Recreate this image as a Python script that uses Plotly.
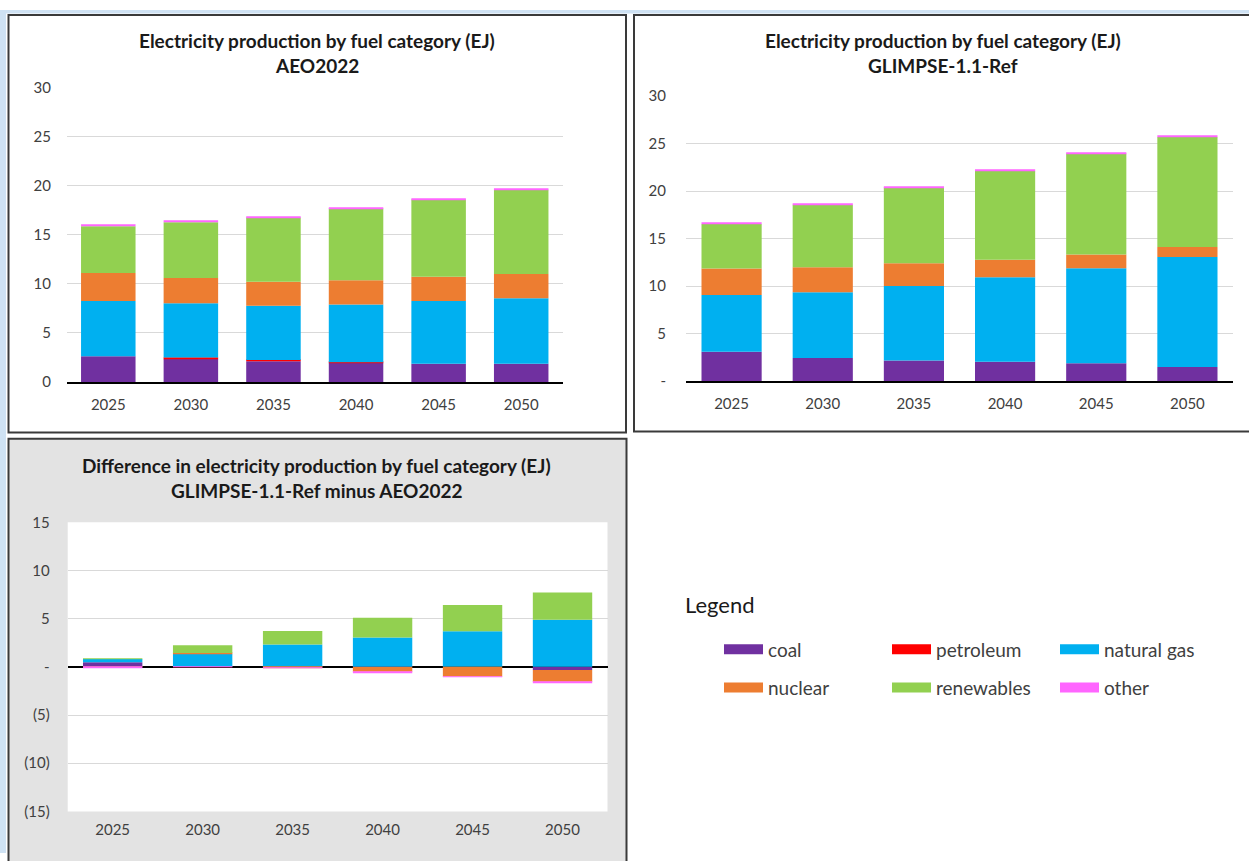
import plotly.graph_objects as go

W, H = 1249, 861

years = ['2025', '2030', '2035', '2040', '2045', '2050']
fuels = ['coal', 'petroleum', 'natural gas', 'nuclear', 'renewables', 'other']
colors = ['#7030A0', '#FF0000', '#00B0F0', '#ED7D31', '#92D050', '#FF66FF']

# AEO2022 (EJ)
aeo_coal = [2.62, 2.36, 2.12, 1.99, 1.86, 1.86]
aeo_petroleum = [0.00, 0.13, 0.13, 0.02, 0.00, 0.00]
aeo_gas = [5.64, 5.54, 5.51, 5.89, 6.40, 6.67]
aeo_nuclear = [2.83, 2.56, 2.45, 2.46, 2.46, 2.46]
aeo_renewables = [4.77, 5.67, 6.54, 7.30, 7.87, 8.59]
aeo_other = [0.11, 0.11, 0.11, 0.11, 0.11, 0.11]

# GLIMPSE-1.1-Ref (EJ)
gl_coal = [3.09, 2.44, 2.16, 2.03, 1.89, 1.48]
gl_petroleum = [0.00, 0.00, 0.00, 0.00, 0.00, 0.00]
gl_gas = [5.98, 6.91, 7.84, 8.90, 10.00, 11.58]
gl_nuclear = [2.79, 2.64, 2.41, 1.85, 1.44, 1.06]
gl_renewables = [4.67, 6.57, 7.97, 9.35, 10.62, 11.58]
gl_other = [0.13, 0.11, 0.13, 0.11, 0.11, 0.11]

# Difference GLIMPSE-1.1-Ref minus AEO2022 (EJ)
df_coal = [0.47, 0.00, 0.02, 0.00, 0.00, -0.32]
df_petroleum = [0.00, -0.01, -0.02, -0.01, 0.00, 0.00]
df_gas = [0.34, 1.35, 2.29, 3.05, 3.70, 4.89]
df_nuclear = [-0.04, 0.08, -0.04, -0.50, -1.00, -1.22]
df_renewables = [0.02, 0.82, 1.42, 2.05, 2.73, 2.83]
df_other = [-0.08, -0.02, -0.08, -0.08, -0.08, -0.08]

aeo = [aeo_coal, aeo_petroleum, aeo_gas, aeo_nuclear, aeo_renewables, aeo_other]
glimpse = [gl_coal, gl_petroleum, gl_gas, gl_nuclear, gl_renewables, gl_other]
diff = [df_coal, df_petroleum, df_gas, df_nuclear, df_renewables, df_other]

FONT = 'Lato'
TXT = '#404040'


def px(x):
    return x / W


def py(y):
    return 1 - y / H


fig = go.Figure()

for series, xa, ya in [(aeo, 'x', 'y'), (glimpse, 'x2', 'y2'), (diff, 'x3', 'y3')]:
    for name, vals, col in zip(fuels, series, colors):
        fig.add_trace(go.Bar(x=years, y=vals, name=name, marker=dict(color=col, line=dict(width=0)),
                             xaxis=xa, yaxis=ya, showlegend=False))

# legend entries (two rows of three)
for i, (name, col) in enumerate(zip(fuels, colors)):
    fig.add_trace(go.Scatter(x=[None], y=[None], mode='lines', name=name,
                             line=dict(color=col, width=11), xaxis='x', yaxis='y',
                             legend='legend' if i < 3 else 'legend2', hoverinfo='skip'))

axis_common = dict(showgrid=False, zeroline=False, tickfont=dict(family=FONT, size=15, color=TXT),
                   type='category', range=[-0.5, 5.5], ticklabelstandoff=8, fixedrange=True)


def yax(standoff):
    return dict(showgrid=True, gridcolor='#D9D9D9', gridwidth=1,
                tickfont=dict(family=FONT, size=15, color=TXT),
                ticklabelstandoff=standoff, fixedrange=True, showline=False)


BORDER = '#3A3A3A'
shapes = [
    # light blue window strips (left and top)
    dict(type='rect', xref='paper', yref='paper', x0=0, x1=px(6), y0=0, y1=1,
         fillcolor='#CFE2F3', line=dict(width=0), layer='below'),
    dict(type='rect', xref='paper', yref='paper', x0=0, x1=1, y0=py(3.5), y1=1,
         fillcolor='#CFE2F3', line=dict(width=0), layer='below'),
    # panels
    dict(type='rect', xref='paper', yref='paper', x0=px(8.5), x1=px(626), y0=py(431.5), y1=py(5),
         fillcolor='white', line=dict(color=BORDER, width=2), layer='below'),
    dict(type='rect', xref='paper', yref='paper', x0=px(634), x1=px(1262), y0=py(430.5), y1=py(5),
         fillcolor='white', line=dict(color=BORDER, width=2), layer='below'),
    dict(type='rect', xref='paper', yref='paper', x0=px(8.5), x1=px(626.5), y0=py(875), y1=py(438),
         fillcolor='#E3E3E3', line=dict(color=BORDER, width=2), layer='below'),
    dict(type='rect', xref='paper', yref='paper', x0=px(67.7), x1=px(607.5), y0=py(818.5), y1=py(523.3),
         fillcolor='white', line=dict(width=0), layer='below'),
]

title_font = dict(family=FONT, size=19, color='#1A1A1A')
annotations = []
for cx, y1, t1, y2, t2 in [
    (317, 31, 'Electricity production by fuel category (EJ)', 57, 'AEO2022'),
    (943, 31, 'Electricity production by fuel category (EJ)', 57, 'GLIMPSE-1.1-Ref'),
    (317, 465, 'Difference in electricity production by fuel category (EJ)', 491, 'GLIMPSE-1.1-Ref minus AEO2022'),
]:
    annotations.append(dict(text='<b>' + t1 + '</b>', x=px(cx), y=py(y1), xref='paper', yref='paper',
                            showarrow=False, font=title_font, xanchor='center', yanchor='middle'))
    annotations.append(dict(text='<b>' + t2 + '</b>', x=px(cx), y=py(y2), xref='paper', yref='paper',
                            showarrow=False, font=title_font, xanchor='center', yanchor='middle'))
annotations.append(dict(text='Legend', x=px(683), y=py(607), xref='paper', yref='paper', showarrow=False,
                        font=dict(family=FONT, size=22, color='#1A1A1A'), xanchor='left', yanchor='middle'))

legend_common = dict(orientation='h', xanchor='left', yanchor='middle', bgcolor='rgba(0,0,0,0)',
                     font=dict(family=FONT, size=19, color=TXT), entrywidth=114, entrywidthmode='pixels',
                     itemwidth=39, itemclick=False, itemdoubleclick=False, traceorder='normal')

fig.update_layout(
    width=W, height=H, margin=dict(l=0, r=0, t=0, b=0, pad=0),
    paper_bgcolor='white', plot_bgcolor='rgba(0,0,0,0)',
    barmode='relative', bargap=0.34,
    shapes=shapes, annotations=annotations,
    legend=dict(x=px(719), y=py(653), **legend_common),
    legend2=dict(x=px(719), y=py(692), **legend_common),
    xaxis=dict(domain=[px(67), px(562.5)], anchor='y', showline=True, linecolor='black', linewidth=1.5, **axis_common),
    yaxis=dict(domain=[py(380), py(79)], anchor='x', range=[0, 30],
               tickvals=[0, 5, 10, 15, 20, 25, 30], ticktext=['0', '5', '10', '15', '20', '25', '30'],
               zeroline=False, **yax(15)),
    xaxis2=dict(domain=[px(686), px(1233)], anchor='y2', showline=True, linecolor='black', linewidth=1.5, **axis_common),
    yaxis2=dict(domain=[py(379), py(88)], anchor='x2', range=[0, 30],
                tickvals=[0, 5, 10, 15, 20, 25, 30], ticktext=['-', '5', '10', '15', '20', '25', '30'],
                zeroline=False, **yax(19)),
    xaxis3=dict(domain=[px(67.7), px(607.5)], anchor='y3', showline=False, **axis_common),
    yaxis3=dict(domain=[py(818.5), py(523.3)], anchor='x3', range=[-15, 15],
                tickvals=[-15, -10, -5, 0, 5, 10, 15], ticktext=['(15)', '(10)', '(5)', '-', '5', '10', '15'],
                zeroline=True, zerolinecolor='black', zerolinewidth=1.5, **yax(17)),
)

fig.write_html('out.html', config={'displayModeBar': False},
               post_script="document.body.style.margin='0';document.body.style.overflow='hidden';")
